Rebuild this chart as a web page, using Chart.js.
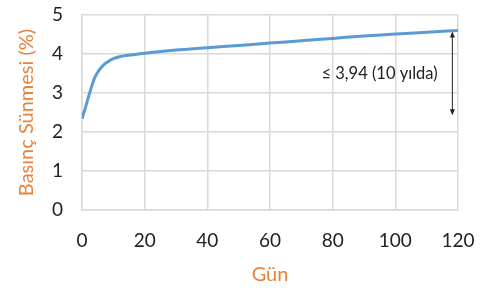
<!DOCTYPE html>
<html><head><meta charset="utf-8">
<script src="https://cdn.jsdelivr.net/npm/chart.js@4/dist/chart.umd.min.js"></script>
<style>html,body{margin:0;padding:0;background:#fff}#w{width:483px;height:294px}</style>
</head><body><div id="w"><canvas id="c"></canvas></div>
<script>
const days   = [0, 1, 2, 3, 4, 5, 6, 7, 8, 10, 12, 14, 17, 20, 30, 40, 50, 60, 70, 80, 90, 100, 110, 120];
const creep  = [2.34, 2.6, 2.88, 3.15, 3.38, 3.53, 3.64, 3.73, 3.79, 3.88, 3.93, 3.96, 3.99, 4.02, 4.1, 4.16, 4.22, 4.28, 4.34, 4.4, 4.46, 4.51, 4.56, 4.6];
const xTicks = [0, 20, 40, 60, 80, 100, 120];
const yTicks = [0, 1, 2, 3, 4, 5];
const noteText = "≤ 3,94 (10 yılda)";
const noteArrowX = 118.2;
const noteArrowY = [4.58, 2.43];
const noteTextX = 113.5;
const noteTextY = 3.49;

const FONT = "Lato, 'Open Sans', sans-serif";
const ORANGE = "#E8833A";

const notePlugin = {
  id: 'note',
  afterDatasetsDraw(chart) {
    const {ctx, scales: {x, y}} = chart;
    const ax = x.getPixelForValue(noteArrowX);
    const y1 = y.getPixelForValue(noteArrowY[0]);
    const y2 = y.getPixelForValue(noteArrowY[1]);
    ctx.save();
    ctx.strokeStyle = '#222'; ctx.fillStyle = '#222'; ctx.lineWidth = 1;
    ctx.beginPath(); ctx.moveTo(ax, y1 + 3); ctx.lineTo(ax, y2 - 3); ctx.stroke();
    ctx.beginPath(); ctx.moveTo(ax, y1); ctx.lineTo(ax - 2.5, y1 + 6); ctx.lineTo(ax + 2.5, y1 + 6); ctx.closePath(); ctx.fill();
    ctx.beginPath(); ctx.moveTo(ax, y2); ctx.lineTo(ax - 2.5, y2 - 6); ctx.lineTo(ax + 2.5, y2 - 6); ctx.closePath(); ctx.fill();
    ctx.font = "16.5px " + FONT;
    ctx.textAlign = 'right'; ctx.textBaseline = 'middle';
    ctx.fillText(noteText, x.getPixelForValue(noteTextX), y.getPixelForValue(noteTextY));
    ctx.restore();
  }
};

new Chart(document.getElementById('c'), {
  type: 'line',
  data: { datasets: [{
    data: days.map((d, i) => ({x: d, y: creep[i]})),
    borderColor: '#5B9BD5', borderWidth: 3, pointRadius: 0,
    cubicInterpolationMode: 'monotone', fill: false
  }]},
  options: {
    responsive: true, maintainAspectRatio: false, animation: false,
    layout: { padding: { left: 10, right: 25, top: 15, bottom: 0 } },
    plugins: { legend: { display: false }, tooltip: { enabled: false } },
    scales: {
      x: {
        type: 'linear', min: 0, max: 120,
        afterBuildTicks: s => { s.ticks = xTicks.map(v => ({value: v})); },
        afterFit: s => { s.height = 84; s.paddingLeft = 0; s.paddingRight = 0; },
        grid: { color: '#D9D9D9', lineWidth: 1.5, drawTicks: false },
        border: { color: '#D9D9D9', width: 1.5 },
        ticks: { color: '#222', font: { family: FONT, size: 19 }, padding: 19, maxRotation: 0 },
        title: { display: true, text: 'Gün', color: ORANGE, font: { family: FONT, size: 20 }, padding: { top: 0, bottom: 7 } }
      },
      y: {
        min: 0, max: 5,
        afterBuildTicks: s => { s.ticks = yTicks.map(v => ({value: v})); },
        afterFit: s => { s.width = 72; s.paddingTop = 0; s.paddingBottom = 0; },
        grid: { color: '#D9D9D9', lineWidth: 1.5, drawTicks: false },
        border: { color: '#D9D9D9', width: 1.5 },
        ticks: { color: '#222', font: { family: FONT, size: 19 }, padding: 19 },
        title: { display: true, text: 'Basınç Sünmesi (%)', color: ORANGE, font: { family: FONT, size: 20 }, padding: { top: 5, bottom: 0 } }
      }
    }
  },
  plugins: [notePlugin]
});
</script></body></html>
